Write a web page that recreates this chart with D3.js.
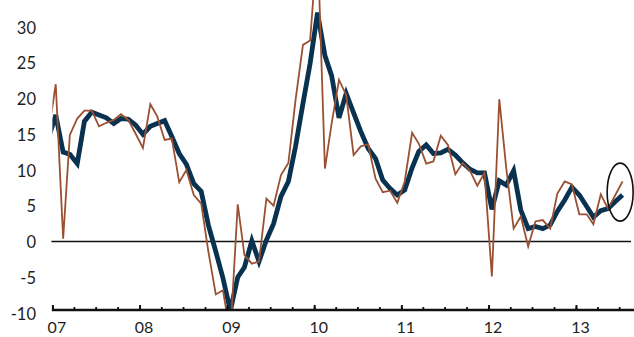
<!DOCTYPE html>
<html>
<head>
<meta charset="utf-8">
<script src="https://cdn.jsdelivr.net/npm/d3@7"></script>
<style>
  html, body { margin: 0; padding: 0; background: #fff; }
  svg { display: block; }
  text { font-family: Lato, "Open Sans", sans-serif; fill: #1e1e1e; }
</style>
</head>
<body>
<svg id="chart" width="634" height="337"></svg>
<script>
// Monthly series, first value is December 2006 (partly outside the plot).
const firstMonth = new Date(2006, 11, 15);

// Thin brown line: monthly growth rate, %
const monthly = [
  15.0,
  22.0, 0.4, 14.9, 17.2, 18.3, 18.3, 16.1, 16.6, 17.0, 17.8, 17.0, 15.1,
  13.1, 19.2, 17.5, 14.2, 14.4, 8.3, 10.0, 6.5, 5.3, -1.4, -7.4, -6.8,
  -13.0, 5.2, -1.9, -3.1, -2.8, 6.0, 5.0, 9.3, 11.0, 19.8, 27.5, 28.1,
  42.0, 10.2, 16.5, 22.6, 20.5, 12.1, 13.3, 13.6, 8.8, 6.9, 7.1, 5.4,
  8.4, 15.2, 13.7, 10.9, 11.2, 14.8, 13.5, 9.4, 11.0, 9.9, 7.8, 9.6,
  -4.9, 19.9, 10.3, 1.8, 3.5, -0.7, 2.8, 3.0, 1.8, 6.7, 8.4, 8.0,
  3.8, 3.8, 2.4, 6.6, 4.6, 6.5, 8.4
];

// Thick navy line: smoothed trend, %
const smoothed = [
  14.4,
  17.7, 12.5, 12.2, 10.9, 16.8, 18.1, 17.7, 17.3, 16.5, 17.2, 17.1, 16.3,
  15.0, 16.1, 16.5, 16.9, 14.7, 12.3, 10.8, 8.1, 7.0, 2.3, -1.4, -5.1,
  -9.7, -5.0, -3.6, 0.1, -2.8, 0.2, 2.5, 6.3, 8.4, 13.3, 19.3, 24.9,
  32.0, 26.0, 23.2, 17.3, 20.7, 18.0, 15.4, 13.0, 11.6, 8.6, 7.4, 6.5,
  7.2, 10.3, 12.6, 13.5, 12.3, 12.4, 12.9, 12.1, 11.0, 10.1, 9.6, 9.6,
  4.5, 8.5, 7.9, 9.9, 4.4, 1.8, 2.1, 1.8, 2.3, 4.2, 5.8, 7.6,
  6.5, 4.9, 3.4, 4.3, 4.6, 5.6, 6.5
];

const yearLabels = ["07", "08", "09", "10", "11", "12", "13"];
const yTickValues = [-10, -5, 0, 5, 10, 15, 20, 25, 30];

const W = 634, H = 337;
const plotLeft = 52.4, plotRight = 634, plotTop = 0, plotBottom = 310;

const svg = d3.select("#chart");

const x = d3.scaleTime()
  .domain([new Date(2007, 0, 1), new Date(2013, 8, 1)])
  .range([plotLeft, plotRight]);

const y = d3.scaleLinear()
  .domain([-10, 30])
  .range([313, 27]);

const monthDate = i => d3.timeMonth.offset(firstMonth, i);

svg.append("defs").append("clipPath").attr("id", "plot-clip")
  .append("rect")
  .attr("x", plotLeft).attr("y", plotTop)
  .attr("width", plotRight - plotLeft).attr("height", plotBottom - plotTop);

// zero line
svg.append("line")
  .attr("x1", plotLeft - 1).attr("x2", 631)
  .attr("y1", y(0)).attr("y2", y(0))
  .attr("stroke", "#111").attr("stroke-width", 1.6);

const line = d3.line()
  .x((d, i) => x(monthDate(i)))
  .y(d => y(d));

const lines = svg.append("g").attr("clip-path", "url(#plot-clip)");

lines.append("path")
  .datum(smoothed)
  .attr("d", line)
  .attr("fill", "none")
  .attr("stroke", "#08324f")
  .attr("stroke-width", 4.8)
  .attr("stroke-linejoin", "miter");

lines.append("path")
  .datum(monthly)
  .attr("d", line)
  .attr("fill", "none")
  .attr("stroke", "#9a5133")
  .attr("stroke-width", 1.8)
  .attr("stroke-linejoin", "miter");

// x axis: yearly major ticks, quarterly minor ticks, pointing up
const quarters = d3.timeMonth.every(3).range(new Date(2007, 0, 1), new Date(2013, 8, 1));
const years = d3.timeYear.range(new Date(2007, 0, 1), new Date(2013, 8, 1));

const xAxisMinor = d3.axisTop(x).tickValues(quarters).tickSize(3).tickFormat("");
const gMinor = svg.append("g").attr("transform", `translate(0,${plotBottom})`).call(xAxisMinor);
gMinor.select(".domain").remove();
gMinor.selectAll(".tick line").attr("stroke", "#111").attr("stroke-width", 1.8);

const xAxisMajor = d3.axisTop(x).tickValues(years).tickSize(5).tickFormat("");
const gMajor = svg.append("g").attr("transform", `translate(0,${plotBottom})`).call(xAxisMajor);
gMajor.select(".domain").remove();
gMajor.selectAll(".tick line").attr("stroke", "#111").attr("stroke-width", 2);

svg.append("line")
  .attr("x1", plotLeft - 0.5).attr("x2", plotRight)
  .attr("y1", plotBottom).attr("y2", plotBottom)
  .attr("stroke", "#111").attr("stroke-width", 2.6);

svg.append("g").selectAll("text")
  .data(years)
  .join("text")
  .attr("x", d => x(d) + 4.5)
  .attr("y", 333)
  .attr("text-anchor", "middle")
  .attr("font-size", 16)
  .text((d, i) => yearLabels[i]);

// y labels (no axis line)
svg.append("g").selectAll("text")
  .data(yTickValues)
  .join("text")
  .attr("x", 36)
  .attr("y", d => y(d) + 0.8)
  .attr("dy", "0.36em")
  .attr("text-anchor", "end")
  .attr("font-size", 16.5)
  .text(d => d);

// highlight ellipse around the latest readings
svg.append("ellipse")
  .attr("cx", x(new Date(2013, 6, 5)))
  .attr("cy", y(6.9))
  .attr("rx", 13)
  .attr("ry", 29)
  .attr("fill", "none")
  .attr("stroke", "#111")
  .attr("stroke-width", 1.6);
</script>
</body>
</html>
